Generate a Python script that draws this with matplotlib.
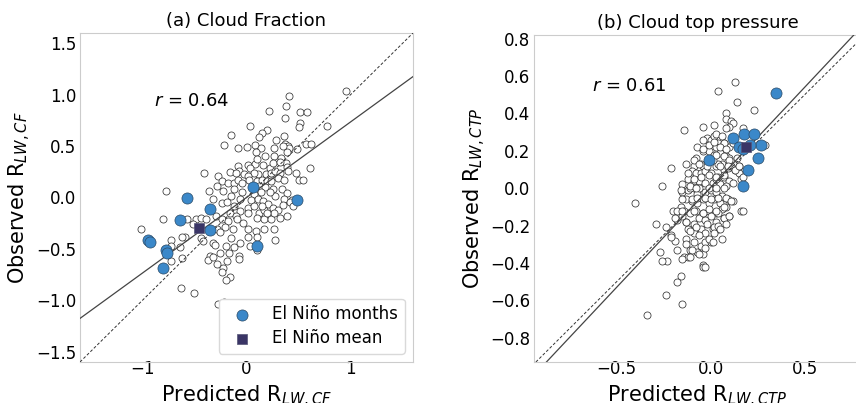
import numpy as np
import matplotlib
matplotlib.use("Agg")
import matplotlib.pyplot as plt

# ---------------- Panel (a): Cloud Fraction ----------------
cf_pred = [0.96,0.41,0.22,0.38,0.51,0.58,0.37,0.03,0.51,0.50,0.77,0.20,0.15,0.12,-0.15,0.36,
           0.28,-0.22,-0.08,0.00,0.08,0.14,0.37,0.40,0.41,0.39,0.35,0.26,0.49,0.57,0.62,0.26,0.18,0.09,0.33,0.38,
           -0.41,-0.16,-0.08,0.01,0.08,-0.07,-0.02,0.03,0.10,0.16,0.23,0.25,0.32,0.39,0.40,0.48,0.61,0.50,0.54,0.11,0.19,0.24,0.27,0.32,0.07,0.01,-0.10,
           -0.27,-0.24,-0.18,-0.12,-0.08,-0.04,0.02,0.10,0.15,0.20,0.24,0.30,0.36,0.12,0.18,0.25,0.34,0.39,0.27,0.23,0.14,0.07,-0.04,-0.12,-0.15,-0.23,-0.28,-0.36,-0.77,-0.06,0.04,0.11,0.16,0.21,0.36,0.44,-0.32,
           -0.24,-0.19,-0.12,-0.06,0.01,0.07,0.12,0.17,0.25,0.30,0.35,0.42,-0.16,-0.10,-0.29,-0.24,-0.18,-0.09,-0.03,0.01,0.10,0.17,0.24,0.32,0.39,0.45,0.26,0.20,0.15,
           -1.01,-0.80,-0.57,-0.49,-0.44,-0.39,-0.51,-0.28,-0.21,-0.13,0.01,0.09,0.17,0.27,0.26,0.01,0.10,-0.15,-0.25,-0.32,-0.20,-0.12,-0.06,-0.17,-0.25,-0.30,-0.35,-0.44,-0.42,-0.59,-0.62,-0.73,-0.73,-0.78,0.10,-0.07,-0.07,0.03,-0.64,
           -0.37,-0.32,-0.28,-0.23,-0.19,-0.16,-0.20,-0.24,-0.73,-0.62,-0.63,-0.50,-0.22,-0.27]
cf_obs = [1.04,0.99,0.84,0.89,0.83,0.83,0.77,0.70,0.72,0.69,0.70,0.66,0.63,0.59,0.61,0.60,
          0.56,0.51,0.48,0.49,0.51,0.48,0.52,0.50,0.48,0.44,0.50,0.48,0.47,0.52,0.52,0.40,0.40,0.44,0.38,0.34,
          0.24,0.25,0.31,0.32,0.33,0.26,0.23,0.29,0.37,0.32,0.29,0.34,0.35,0.30,0.26,0.24,0.29,0.17,0.17,0.23,0.23,0.24,0.26,0.24,0.24,0.21,0.24,
          0.21,0.16,0.14,0.14,0.17,0.14,0.17,0.16,0.17,0.16,0.16,0.19,0.17,0.11,0.10,0.08,0.08,0.04,0.01,0.05,0.05,0.03,0.05,0.08,0.01,0.06,0.11,0.06,0.06,-0.01,-0.02,-0.01,-0.03,-0.06,-0.01,-0.02,-0.01,
          -0.05,-0.04,-0.08,-0.13,-0.10,-0.08,-0.15,-0.12,-0.10,-0.12,-0.07,-0.04,-0.15,-0.18,-0.18,-0.21,-0.23,-0.21,-0.25,-0.15,-0.20,-0.21,-0.21,-0.20,-0.18,-0.08,-0.15,-0.15,-0.08,
          -0.31,-0.21,-0.21,-0.21,-0.20,-0.21,-0.26,-0.31,-0.29,-0.31,-0.31,-0.33,-0.31,-0.41,-0.31,-0.38,-0.38,-0.39,-0.34,-0.44,-0.47,-0.48,-0.44,-0.54,-0.54,-0.46,-0.57,-0.39,-0.42,-0.38,-0.38,-0.41,-0.47,-0.50,-0.51,-0.57,-0.60,-0.47,-0.48,
          -0.61,-0.58,-0.65,-0.69,-0.62,-0.77,-0.80,-0.72,-0.62,-0.59,-0.88,-0.93,-1.02,-1.04]
cf_nino_pred = [-0.57,-0.64,-0.35,-0.35,0.06,0.49,0.10,-0.95,-0.93,-0.77,-0.76,-0.80]
cf_nino_obs = [0.00,-0.22,-0.11,-0.32,0.10,-0.02,-0.47,-0.41,-0.43,-0.51,-0.54,-0.69]
cf_mean = (-0.46, -0.30)
cf_fit = (0.735, 0.0)      # slope, intercept of regression line
cf_r = 0.64

# ---------------- Panel (b): Cloud top pressure ----------------
ctp_pred = [0.13,0.04,0.14,0.23,0.08,0.02,-0.04,-0.14,0.08,0.11,0.12,0.10,0.08,0.17,
            -0.02,-0.04,0.01,0.04,0.07,0.10,0.12,0.18,-0.07,-0.04,-0.01,0.02,0.05,0.08,0.06,0.10,0.29,
            -0.13,-0.09,-0.08,-0.05,-0.04,0.03,0.04,0.07,0.09,0.11,0.13,0.15,-0.10,-0.08,-0.05,-0.03,0.00,0.04,0.07,0.10,0.16,-0.12,-0.09,-0.06,-0.03,0.01,0.05,0.08,-0.21,-0.26,-0.15,0.15,
            -0.15,-0.12,-0.09,-0.07,-0.03,0.00,0.03,0.06,0.09,0.12,-0.13,-0.10,-0.07,-0.04,-0.01,0.02,0.05,0.08,-0.40,-0.20,-0.16,-0.14,-0.11,-0.08,-0.04,-0.01,0.03,0.06,0.16,0.17,
            -0.29,-0.24,-0.21,-0.18,-0.15,-0.13,-0.09,-0.06,-0.03,0.00,0.03,0.07,0.10,-0.12,-0.09,-0.05,-0.03,0.01,0.04,0.06,-0.19,-0.13,-0.09,-0.05,-0.03,0.00,-0.11,-0.07,-0.04,-0.27,-0.23,-0.26,-0.18,-0.14,-0.12,-0.04,-0.04,-0.15,
            -0.16,-0.18,-0.24,-0.15,-0.34,
            -0.16,-0.11,-0.06,-0.01,0.03,-0.15,-0.10,-0.07,-0.03,0.00,-0.18,-0.15,-0.09,-0.04,-0.01,0.04,-0.19,-0.13,-0.08,-0.02,0.02,-0.11,-0.06,-0.01,0.02,-0.13,-0.10,-0.06,-0.03,0.01,-0.21,-0.11,-0.03,
            0.07,0.04,0.08,0.11,0.07,0.03,0.07,0.10,0.04,0.08,0.05,
            0.00,0.02,-0.04,-0.01,0.03,-0.09,-0.06,-0.02,0.01,-0.12,-0.09,-0.05,-0.01,0.03,-0.11,-0.08,
            0.03,0.06,0.02,0.07,0.05,0.08,0.03,0.07,0.10,0.14,0.05,0.09,0.13,0.15,0.17,0.07,0.03,0.12]
ctp_obs = [0.57,0.52,0.46,0.42,0.40,0.34,0.33,0.31,0.37,0.36,0.35,0.33,0.32,0.32,
           0.27,0.26,0.26,0.24,0.24,0.22,0.24,0.22,0.22,0.20,0.20,0.18,0.19,0.17,0.13,0.16,0.23,
           0.13,0.12,0.16,0.13,0.12,0.12,0.13,0.10,0.11,0.12,0.10,0.08,0.09,0.08,0.08,0.09,0.08,0.06,0.06,0.04,0.05,0.05,0.04,0.04,0.03,0.03,0.02,0.01,0.11,0.01,0.02,0.12,
           -0.02,-0.01,0.00,-0.03,-0.02,-0.01,-0.02,-0.04,-0.06,-0.07,-0.06,-0.07,-0.08,-0.06,-0.08,-0.06,-0.08,-0.10,-0.08,-0.12,-0.10,-0.12,-0.13,-0.12,-0.13,-0.12,-0.13,-0.11,-0.12,-0.12,
           -0.19,-0.21,-0.25,-0.17,-0.15,-0.18,-0.19,-0.16,-0.17,-0.15,-0.18,-0.16,-0.15,-0.22,-0.24,-0.22,-0.24,-0.22,-0.22,-0.27,-0.28,-0.27,-0.29,-0.31,-0.29,-0.29,-0.33,-0.34,-0.35,-0.34,-0.39,-0.39,-0.33,-0.37,-0.37,-0.41,-0.42,-0.38,
           -0.47,-0.50,-0.57,-0.62,-0.68,
           -0.01,0.00,0.00,0.00,0.00,-0.06,-0.06,-0.05,-0.05,-0.06,-0.12,-0.12,-0.12,-0.13,-0.11,-0.13,-0.16,-0.18,-0.21,-0.19,-0.21,-0.23,-0.25,-0.27,-0.24,-0.30,-0.33,-0.35,-0.32,-0.29,-0.26,-0.37,-0.42,
           0.00,-0.05,-0.05,-0.07,-0.10,-0.12,-0.16,-0.15,-0.20,-0.19,-0.22,
           0.26,0.28,0.21,0.23,0.22,0.15,0.13,0.12,0.15,0.08,0.05,0.06,0.07,0.05,0.01,0.00,
           0.29,0.28,0.25,0.24,0.22,0.21,0.18,0.17,0.15,0.16,0.12,0.12,0.10,0.12,0.06,0.07,0.06,0.03]
ctp_nino_pred = [0.35,-0.01,0.12,0.18,0.23,0.15,0.27,0.25,0.20,0.17,0.17,0.21]
ctp_nino_obs = [0.51,0.15,0.27,0.29,0.29,0.22,0.23,0.16,0.10,0.01,0.21,0.23]
ctp_mean = (0.19, 0.22)
ctp_fit = (1.07, 0.005)
ctp_r = 0.61

BLUE = "#3b88c9"
NAVY = "#3a3566"
SPINE = "#cccccc"

plt.rcParams["font.family"] = ["DejaVu Sans"]
fig = plt.figure(figsize=(8.56, 4.03), dpi=100)
ax1 = fig.add_axes([80/856, 41/403, 333/856, 329/403])
ax2 = fig.add_axes([534/856, 41/403, 327/856, 327/403])


def panel(ax, px, py, npx, npy, mean, fit, r, title, sub, xlim, ylim, xticks, yticks, rpos, legend):
    ax.scatter(px, py, s=26, facecolor="white", edgecolor="#333333", linewidth=0.55, zorder=2)
    ax.axline((0, 0), slope=1, color="#333333", lw=0.7, ls=(0, (3, 2)), zorder=3)
    ax.axline((0, fit[1]), slope=fit[0], color="#444444", lw=0.9, zorder=3)
    ax.scatter(npx, npy, s=64, facecolor=BLUE, edgecolor="#2b4a66", linewidth=0.5, zorder=4,
               label="El Niño months")
    ax.scatter([mean[0]], [mean[1]], s=62, marker="s", facecolor=NAVY, edgecolor="#555577",
               linewidth=0.5, zorder=5, label="El Niño mean")
    ax.set_xlim(*xlim)
    ax.set_ylim(*ylim)
    ax.set_xticks(xticks)
    ax.set_yticks(yticks)
    ax.set_title(title, fontsize=13, pad=5)
    ax.set_xlabel("Predicted R$_{LW,%s}$" % sub, fontsize=15, labelpad=4)
    ax.set_ylabel("Observed R$_{LW,%s}$" % sub, fontsize=15, labelpad=2)
    ax.tick_params(axis="x", labelsize=12, length=0, pad=-1.5)
    ax.tick_params(axis="y", labelsize=12, length=0, pad=2.5)
    for s in ax.spines.values():
        s.set_color(SPINE)
        s.set_linewidth(0.8)
    ax.text(rpos[0], rpos[1], "$r$ = %.2f" % r, transform=ax.transAxes, fontsize=13,
            ha="left", va="baseline")
    if legend:
        ax.legend(loc="lower right", fontsize=12, edgecolor="0.85", framealpha=1.0,
                  labelspacing=0.35)


panel(ax1, cf_pred, cf_obs, cf_nino_pred, cf_nino_obs, cf_mean, cf_fit, cf_r,
      "(a) Cloud Fraction", "CF", (-1.6, 1.6), (-1.6, 1.6), [-1, 0, 1],
      [-1.5, -1.0, -0.5, 0.0, 0.5, 1.0, 1.5], (0.222, 0.778), True)
panel(ax2, ctp_pred, ctp_obs, ctp_nino_pred, ctp_nino_obs, ctp_mean, ctp_fit, ctp_r,
      "(b) Cloud top pressure", "CTP", (-0.94, 0.80), (-0.93, 0.82), [-0.5, 0.0, 0.5],
      [-0.8, -0.6, -0.4, -0.2, 0.0, 0.2, 0.4, 0.6, 0.8], (0.176, 0.829), False)

fig.savefig("out.png", dpi=100)
